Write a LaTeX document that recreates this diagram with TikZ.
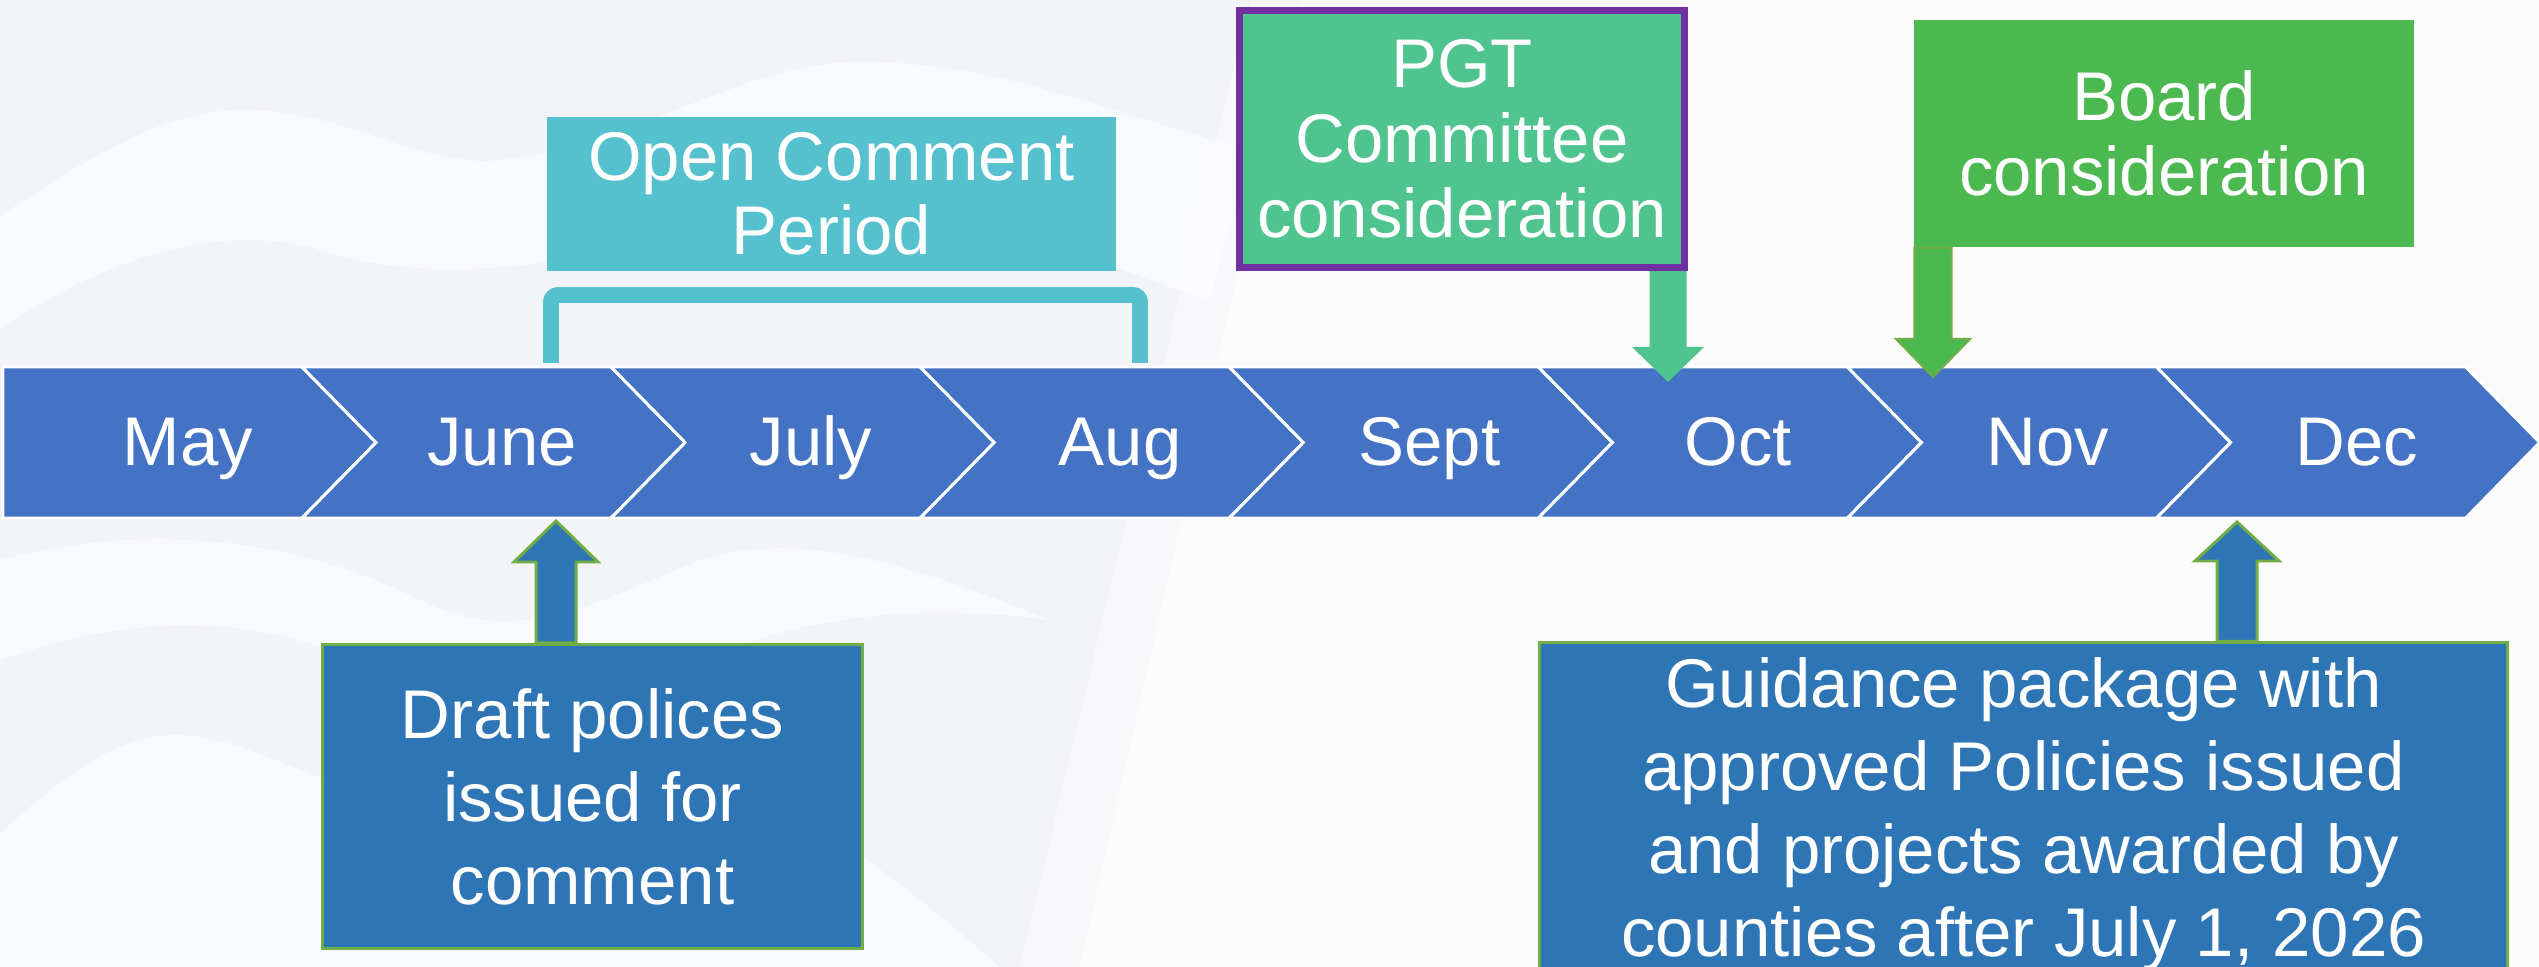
\documentclass[tikz,border=0pt]{standalone}
\usepackage{fontspec}
\setmainfont{Liberation Sans}
\usetikzlibrary{calc}
\definecolor{bandblue}{HTML}{4472C4}
\definecolor{teal}{HTML}{56C1CE}
\definecolor{mint}{HTML}{50C48F}
\definecolor{violet}{HTML}{7030A0}
\definecolor{boardgreen}{HTML}{4BB950}
\definecolor{boxblue}{HTML}{2E75B6}
\definecolor{edgegreen}{HTML}{70AD47}
\definecolor{bgbase}{HTML}{F3F4F8}
\newcommand\blockarrow[6]{%
  \filldraw[#1] ($(#2)+(-#5,0)$) -- ($(#3)+(-#5,0)$) -- ($(#3)+(-#6,0)$) -- (#4)
    -- ($(#3)+(#6,0)$) -- ($(#3)+(#5,0)$) -- ($(#2)+(#5,0)$) -- cycle;}
\tikzset{
  seg/.style={fill=bandblue, draw=white, line width=0.85pt, line join=miter},
  month/.style={text=white, font=\fontsize{19.6pt}{21.3pt}\selectfont, anchor=base, inner sep=0pt},
  boxtxt/.style={text=white, align=center, inner sep=0pt},
  tight/.style={font=\fontsize{19.6pt}{21.3pt}\selectfont},
  loose/.style={font=\fontsize{19.6pt}{23.6pt}\selectfont},
  bracketline/.style={draw=teal, line width=4.5pt, rounded corners=2pt},
  swoosh/.style={fill=white, opacity=0.55},
}
\begin{document}
\begin{tikzpicture}[x=0.01cm,y=-0.01cm]
\useasboundingbox (0,0) rectangle (2539,967);
\clip (0,0) rectangle (2539,967);
% background
\fill[bgbase] (0,0) rectangle (2539,967);
\fill[white, opacity=0.45] (1300,0) -- (2539,0) -- (2539,967) -- (1080,967) -- cycle;
\fill[white, opacity=0.45] (1250,0) -- (2539,0) -- (2539,967) -- (1020,967) -- cycle;
\fill[swoosh] (0,216) .. controls (100,150) and (170,108) .. (250,110)
  .. controls (350,112) and (420,168) .. (500,160) .. controls (640,145) and (740,62) .. (860,62)
  .. controls (1000,62) and (1100,110) .. (1250,150) -- (1210,300)
  .. controls (1050,250) and (950,190) .. (820,210) .. controls (640,240) and (480,300) .. (320,250)
  .. controls (220,220) and (100,260) .. (0,330) -- cycle;
\fill[swoosh] (0,833) .. controls (60,780) and (110,738) .. (170,735)
  .. controls (250,732) and (330,800) .. (420,800) .. controls (520,800) and (600,760) .. (700,780)
  .. controls (800,800) and (900,880) .. (1000,967) -- (0,967) -- cycle;
\fill[swoosh] (0,560) .. controls (150,520) and (300,540) .. (420,600)
  .. controls (520,650) and (600,600) .. (700,560) .. controls (800,530) and (900,560) .. (1050,620)
  .. controls (900,600) and (780,620) .. (650,680) .. controls (500,740) and (380,650) .. (250,630)
  .. controls (150,615) and (60,640) .. (0,660) -- cycle;

% timeline band
\foreach \m [count=\k] in {May,June,July,Aug,Sept,Oct,Nov,Dec}{
  \pgfmathsetmacro\R{302+309.1*(\k-1)}
  \pgfmathsetmacro\L{302+309.1*(\k-2)}
  \ifnum\k=1
    \path[seg] (3,367) -- (\R,367) -- (\R+74,442.5) -- (\R,518) -- (3,518) -- cycle;
    \node[month] (m\k) at (188,466) {\m};
  \else
    \path[seg] (\L,367) -- (\R,367) -- (\R+74,442.5) -- (\R,518) -- (\L,518) -- (\L+74,442.5) -- cycle;
    \node[month] (m\k) at (\L+200,466) {\m};
  \fi
}

% Open comment period
\node[boxtxt, font=\fontsize{19.6pt}{21.05pt}\selectfont, fill=teal, minimum width=5.69cm, minimum height=1.54cm]
  (ocp) at (831.5,194) {Open Comment\\Period};
\coordinate (brL) at (551,363);
\coordinate (brR) at (1140,363);
\draw[bracketline] (brL) -- (brL |- 0,295) -- (brR |- 0,295) -- (brR);

% PGT committee
\node[boxtxt, tight, fill=mint, draw=violet, line width=2pt, minimum width=4.45cm, minimum height=2.57cm]
  (pgt) at (1462,139) {PGT\\Committee\\consideration};
\coordinate (pgtTip) at (1668,382);
\coordinate (pgtBase) at (1668,347);
\coordinate (pgtStart) at (pgt.south -| pgtTip);
\blockarrow{fill=mint, draw=none}{pgtStart}{pgtBase}{pgtTip}{18.5}{36}

% Board
\node[boxtxt, tight, fill=boardgreen, minimum width=5cm, minimum height=2.27cm]
  (board) at (2164,133.5) {Board\\consideration};
\coordinate (bdTip) at (1933,377);
\coordinate (bdBase) at (1933,339);
\coordinate (bdStart) at (board.south -| bdTip);
\blockarrow{fill=boardgreen, draw=edgegreen, line width=0.6pt}{bdStart}{bdBase}{bdTip}{18.5}{37}

% Draft policies
\node[boxtxt, loose, fill=boxblue, draw=edgegreen, line width=0.85pt, minimum width=5.4cm, minimum height=3.04cm]
  (draft) at (592.5,796.5) {Draft polices\\issued for\\comment};
\coordinate (drTip) at (556,521);
\coordinate (drBase) at (556,562);
\coordinate (drStart) at (draft.north -| drTip);
\blockarrow{fill=boxblue, draw=edgegreen, line width=0.85pt}{drStart}{drBase}{drTip}{20}{42}

% Guidance package
\node[boxtxt, loose, fill=boxblue, draw=edgegreen, line width=0.85pt, minimum width=9.68cm, minimum height=3.42cm]
  (guide) at (2023.5,814) {Guidance package with\\approved Policies issued\\and projects awarded by\\counties after July 1, 2026};
\coordinate (gdTip) at (2237,522);
\coordinate (gdBase) at (2237,561);
\coordinate (gdStart) at (guide.north -| gdTip);
\blockarrow{fill=boxblue, draw=edgegreen, line width=0.85pt}{gdStart}{gdBase}{gdTip}{20}{42}
\end{tikzpicture}
\end{document}
